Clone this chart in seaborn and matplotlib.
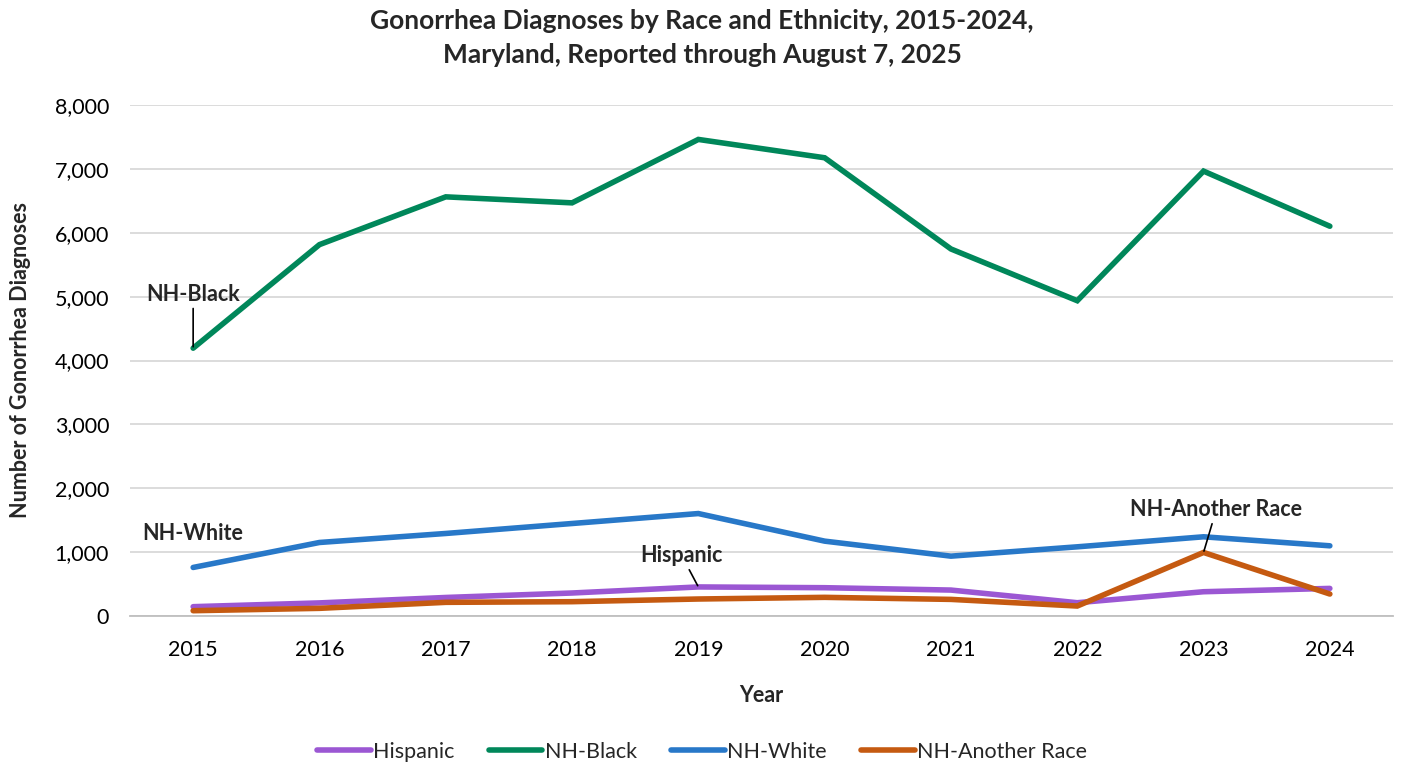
import matplotlib
matplotlib.use("Agg")
import matplotlib.pyplot as plt
import seaborn as sns
import pandas as pd
from matplotlib.ticker import FuncFormatter, FixedLocator

years = ["2015", "2016", "2017", "2018", "2019", "2020", "2021", "2022", "2023", "2024"]
hispanic = [146, 205, 290, 360, 455, 443, 406, 208, 380, 432]
nh_black = [4193, 5814, 6562, 6468, 7461, 7174, 5746, 4936, 6965, 6102]
nh_white = [760, 1151, 1292, 1448, 1604, 1172, 937, 1083, 1240, 1099]
nh_another = [83, 120, 214, 224, 266, 292, 260, 156, 995, 344]

series_names = ["Hispanic", "NH-Black", "NH-White", "NH-Another Race"]
series_values = [hispanic, nh_black, nh_white, nh_another]
colors = ["#9B57D3", "#00875A", "#2878C8", "#C55A11"]

rows = []
for name, vals in zip(series_names, series_values):
    for i, (yr, v) in enumerate(zip(years, vals)):
        rows.append({"Year": yr, "pos": i, "Group": name, "Count": v})
df = pd.DataFrame(rows)

sns.set_theme(style="white")
plt.rcParams["font.family"] = ["Lato", "DejaVu Sans"]

fig = plt.figure(figsize=(14.04, 7.67), dpi=100)
ax = fig.add_axes([130 / 1404, 1 - 616 / 767, (1393 - 130) / 1404, (616 - 105) / 767])

sns.lineplot(data=df, x="pos", y="Count", hue="Group", hue_order=series_names,
             palette=colors, linewidth=4, ax=ax, legend=False,
             solid_capstyle="round", solid_joinstyle="miter")

ax.set_xlim(-0.5, len(years) - 0.5)
ax.set_ylim(0, 8000)
ax.yaxis.set_major_locator(FixedLocator(range(0, 8001, 1000)))
ax.yaxis.set_major_formatter(FuncFormatter(lambda v, p: f"{int(v):,}"))
ax.grid(axis="y", color="#D9D9D9", linewidth=1.3)
ax.set_axisbelow(True)

# category labels centred, tick marks between categories
ax.set_xticks(range(len(years)))
ax.set_xticklabels(years)
ax.set_xticks([i - 0.5 for i in range(len(years) + 1)], minor=True)
ax.tick_params(axis="x", which="major", length=0, pad=17, labelsize=15.5, colors="black")
ax.tick_params(axis="x", which="minor", length=7, width=1.3, color="#BFBFBF", direction="out")
ax.tick_params(axis="y", length=0, pad=15, labelsize=15.5, colors="black")

for s in ["left", "right", "top"]:
    ax.spines[s].set_visible(False)
ax.spines["bottom"].set_color("#BFBFBF")
ax.spines["bottom"].set_linewidth(1.3)

ax.set_xlabel("Year", fontsize=15.5, fontweight="bold", labelpad=18)
ax.set_ylabel("Number of Gonorrhea Diagnoses", fontsize=15.5, fontweight="bold", labelpad=17)

fig.suptitle("Gonorrhea Diagnoses by Race and Ethnicity, 2015-2024,\nMaryland, Reported through August 7, 2025",
             fontsize=19, fontweight="bold", y=0.988, linespacing=1.5)

# data labels for each series
lab = dict(fontsize=15.5, fontweight="bold", ha="center", va="center")
arrow = dict(arrowstyle="-", color="black", lw=1.2, shrinkA=0, shrinkB=1)
ax.annotate("NH-Black", xy=(0, nh_black[0]), xytext=(0.0, 5030), arrowprops=arrow, **lab)
ax.text(0.0, 1290, "NH-White", **lab)
ax.annotate("Hispanic", xy=(4, hispanic[4]), xytext=(3.87, 940), arrowprops=arrow, **lab)
ax.annotate("NH-Another Race", xy=(8, nh_another[8]), xytext=(8.1, 1660), arrowprops=arrow, **lab)

handles = [plt.Line2D([0], [0], color=c, lw=4, solid_capstyle="round") for c in colors]
fig.legend(handles, series_names, loc="center", bbox_to_anchor=(0.5, 1 - 752 / 767),
           ncol=4, frameon=False, fontsize=15.5, handlelength=2.5, handletextpad=0.1,
           columnspacing=1.6)

fig.savefig("out.png", dpi=100)
